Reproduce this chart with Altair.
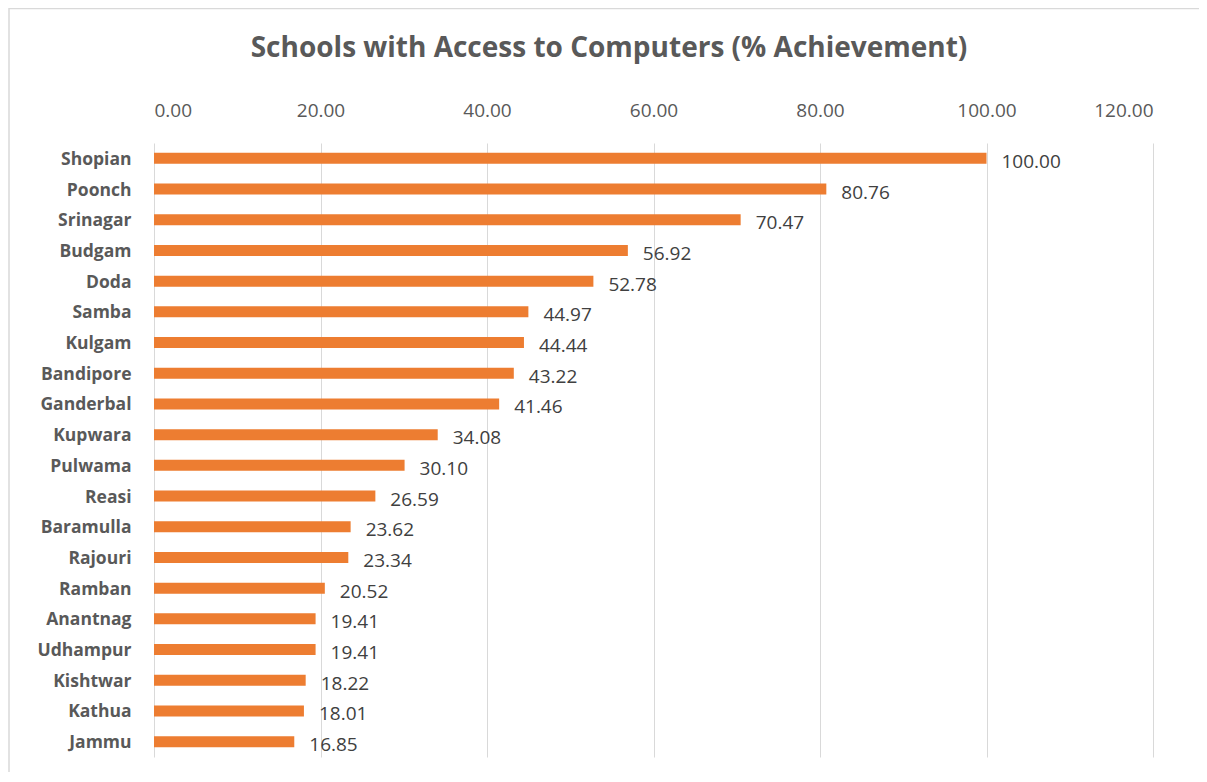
import altair as alt
import pandas as pd

districts = ["Shopian", "Poonch", "Srinagar", "Budgam", "Doda", "Samba", "Kulgam",
             "Bandipore", "Ganderbal", "Kupwara", "Pulwama", "Reasi", "Baramulla",
             "Rajouri", "Ramban", "Anantnag", "Udhampur", "Kishtwar", "Kathua", "Jammu"]
values = [100.00, 80.76, 70.47, 56.92, 52.78, 44.97, 44.44, 43.22, 41.46, 34.08,
          30.10, 26.59, 23.62, 23.34, 20.52, 19.41, 19.41, 18.22, 18.01, 16.85]
ticks = [0, 20, 40, 60, 80, 100, 120]

df = pd.DataFrame({"district": districts, "value": values})

FONT = "Open Sans"

x = alt.X("value:Q", scale=alt.Scale(domain=[0, 120], nice=False),
          axis=alt.Axis(orient="top", values=ticks, format=".2f", title=None,
                        grid=True, gridColor="#d9d9d9", gridWidth=1,
                        domain=False, ticks=False, labelPadding=23,
                        labelFontSize=19, labelColor="#595959", labelFont=FONT))
y = alt.Y("district:N", sort=districts,
          scale=alt.Scale(paddingInner=0, paddingOuter=0),
          axis=alt.Axis(title=None, domain=False, ticks=False, labelPadding=23,
                        labelOffset=1.5, grid=False,
                        labelFontSize=17.5, labelFontWeight="bold",
                        labelColor="#595959", labelFont=FONT))

bars = alt.Chart(df).mark_bar(size=11, color="#ED7D31").encode(x=x, y=y)
labels = alt.Chart(df).mark_text(align="left", baseline="middle", dx=15, dy=3.5,
                                 fontSize=19, color="#404040", font=FONT).encode(
    x="value:Q", y=alt.Y("district:N", sort=districts),
    text=alt.Text("value:Q", format=".2f"))

border = alt.Chart(pd.DataFrame({"a": [0]})).mark_rect(
    fill="transparent", stroke="#d9d9d9", strokeWidth=1.5).encode(
    x=alt.value(-145), x2=alt.value(1055), y=alt.value(-134.5), y2=alt.value(700))

chart = alt.layer(border, bars, labels).properties(
    width=999, height=614,
    autosize=alt.AutoSizeParams(type="none"),
    padding={"left": 146, "top": 135, "right": 46, "bottom": 15},
    title=alt.TitleParams("Schools with Access to Computers (% Achievement)",
                          anchor="middle", frame="bounds", fontSize=28,
                          font=FONT, fontWeight="bold", color="#595959", offset=-55),
).configure(background="white").configure_view(strokeWidth=0, stroke="transparent")

chart.save("out.html", embed_options={"renderer": "svg", "actions": False})
